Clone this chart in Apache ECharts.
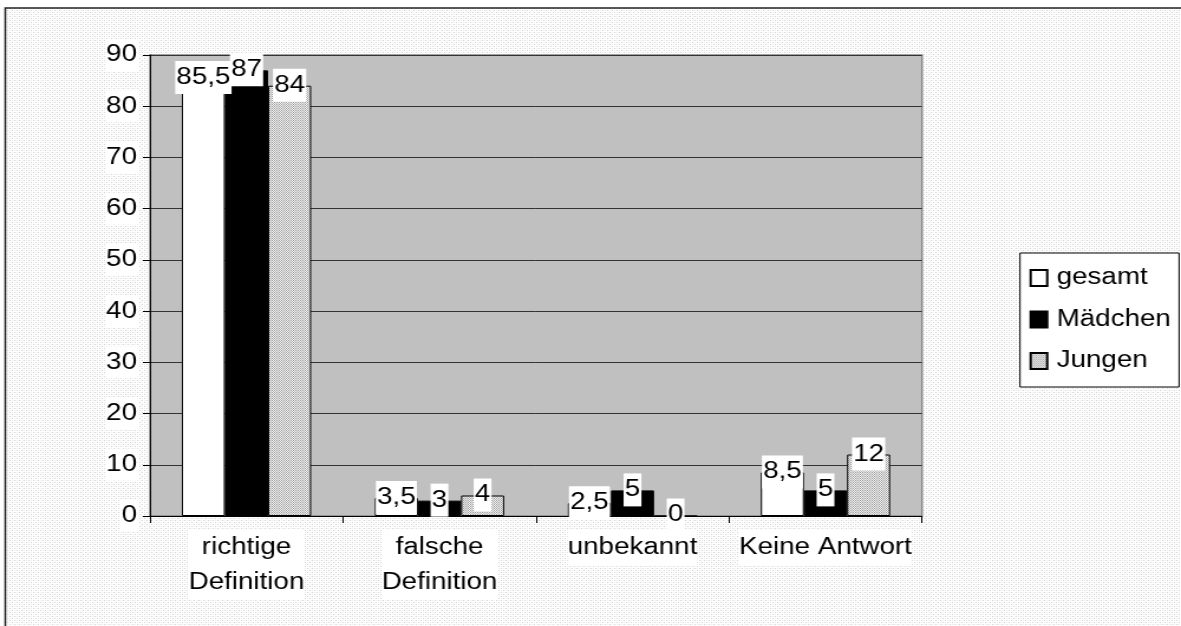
<!DOCTYPE html>
<html>
<head>
<meta charset="utf-8">
<script src="https://cdn.jsdelivr.net/npm/echarts@6/dist/echarts.min.js"></script>
<style>
  html, body { margin: 0; padding: 0; background: #fff; overflow: hidden; }
  /* the reference is stretched horizontally, so draw at 1000px and scale to 1181 */
  #chart { width: 1000px; height: 626px; transform: scaleX(1.181); transform-origin: 0 0; }
</style>
</head>
<body>
<div id="chart"></div>
<script>
const categories = ['richtige\nDefinition', 'falsche\nDefinition', 'unbekannt', 'Keine Antwort'];
const seriesNames = ['gesamt', 'Mädchen', 'Jungen'];
const gesamt = [85.5, 3.5, 2.5, 8.5];
const maedchen = [87, 3, 5, 5];
const jungen = [84, 4, 0, 12];
const yTicks = [0, 10, 20, 30, 40, 50, 60, 70, 80, 90];

const FONT = 'Liberation Sans, Arial, sans-serif';
const FS = 23.5;

// small pixel patterns
function makePattern(size, bg, dots) {
  const c = document.createElement('canvas');
  c.width = size; c.height = size;
  const ctx = c.getContext('2d');
  ctx.fillStyle = bg;
  ctx.fillRect(0, 0, size, size);
  dots.forEach(d => {
    ctx.fillStyle = d[2];
    ctx.fillRect(d[0], d[1], 1, 1);
  });
  return { image: c, repeat: 'repeat' };
}
const bgPattern = makePattern(4, '#ffffff', [[0, 0, '#d2d2d2'], [2, 2, '#d2d2d2'], [2, 0, '#ececec'], [0, 2, '#ececec']]);
const jungenPattern = makePattern(2, '#f4f4f4', [[0, 0, '#9a9a9a'], [1, 1, '#b4b4b4']]);

const chart = echarts.init(document.getElementById('chart'));

const barLabel = {
  show: true,
  position: 'top',
  distance: -16,
  formatter: p => String(p.value).replace('.', ','),
  color: '#000',
  fontFamily: FONT,
  fontSize: FS,
  lineHeight: 25,
  backgroundColor: '#fff',
  padding: [4, 1, 4, 1]
};

const option = {
  backgroundColor: '#fff',
  animation: false,
  textStyle: { fontFamily: FONT },
  graphic: [
    {
      type: 'rect',
      z: -1,
      silent: true,
      shape: { x: 4.5, y: 8, width: 1100, height: 800 },
      style: { fill: bgPattern, stroke: '#222', lineWidth: 1.6 }
    }
  ],
  grid: {
    left: 127,
    right: 219.3,
    top: 55,
    bottom: 110,
    show: true,
    backgroundColor: '#c0c0c0',
    borderColor: '#888',
    borderWidth: 1.5
  },
  legend: {
    orient: 'vertical',
    left: 863.7,
    top: 253,
    padding: [13, 7, 14, 8],
    itemGap: 17.5,
    itemWidth: 14,
    itemHeight: 16,
    icon: 'rect',
    backgroundColor: '#fff',
    borderColor: '#000',
    borderWidth: 1,
    textStyle: { fontSize: FS, lineHeight: 24, color: '#000', padding: [0, 0, 0, 3] },
    data: seriesNames
  },
  xAxis: {
    type: 'category',
    data: categories,
    axisLine: { show: true, lineStyle: { color: '#000', width: 1 } },
    axisTick: { show: true, length: 7, lineStyle: { color: '#000' } },
    axisLabel: {
      interval: 0,
      margin: 14,
      color: '#000',
      fontSize: FS,
      lineHeight: 35,
      backgroundColor: '#fff'
    },
    splitLine: { show: false }
  },
  yAxis: {
    type: 'value',
    min: yTicks[0],
    max: yTicks[yTicks.length - 1],
    interval: yTicks[1] - yTicks[0],
    axisLine: { show: true, lineStyle: { color: '#000', width: 1 } },
    axisTick: { show: true, length: 6, lineStyle: { color: '#000' } },
    axisLabel: {
      margin: 10,
      color: '#000',
      fontSize: FS,
      backgroundColor: '#fff',
      padding: [4, 1, 4, 1]
    },
    splitLine: { show: true, lineStyle: { color: '#333', width: 1 } }
  },
  series: [
    {
      name: seriesNames[0],
      type: 'bar',
      data: gesamt,
      barGap: '0%',
      barCategoryGap: '33%',
      itemStyle: { color: '#fff', borderColor: '#000', borderWidth: 1 },
      label: barLabel
    },
    {
      name: seriesNames[1],
      type: 'bar',
      data: maedchen,
      barGap: '0%',
      barCategoryGap: '33%',
      itemStyle: { color: '#000', borderColor: '#000', borderWidth: 1 },
      label: barLabel
    },
    {
      name: seriesNames[2],
      type: 'bar',
      data: jungen,
      barGap: '0%',
      barCategoryGap: '33%',
      itemStyle: { color: jungenPattern, borderColor: '#000', borderWidth: 1 },
      label: barLabel
    }
  ]
};

chart.setOption(option);
</script>
</body>
</html>
